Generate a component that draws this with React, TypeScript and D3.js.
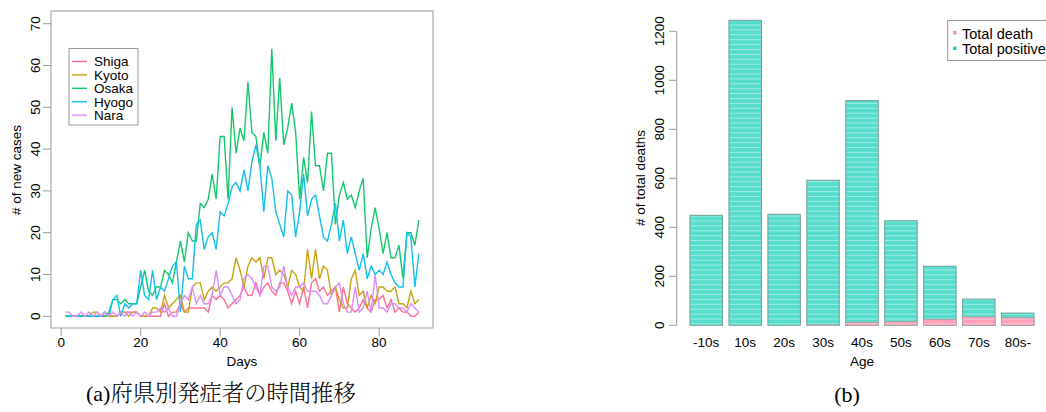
import React from "react";
import * as d3 from "d3";

const prefectures = ["Shiga", "Kyoto", "Osaka", "Hyogo", "Nara"];
const prefColors = ["#ff6f91", "#c9a30f", "#14c76a", "#12c0ea", "#dc8cfa"];

const shiga = [0,0,0,0,0,0,0,0,0,0,0,0, 0,0,1,1,1,1,1, 0,0,0,0,0,0,3,0,1,1, 3,1,2,2,2,2,2,1,5,4, 5,4,2,3,4,5,7,5,5,8, 5,7,8,6,5,8,8,6,3,6, 3,7,2,8,9,6,7,5,6,7, 1,7,3,2,1,2,4,2,1,4, 4,5,2,4,1,2,1,1,0,0,1];
const kyoto = [0,0,0,0,0,0,0,1,1,0,0,0, 0,0,1,1,0,1,1, 0,0,0,2,2,1,5,2,3,4, 5,1,1,7,8,8,4,6,7,6, 7,8,8,9,14,11,7,12,14,13, 14,9,14,14,10,11,10,7,11,10, 7,6,16,9,16,9,12,11,5,7, 4,2,2,9,11,5,6,2,5,3, 7,7,6,6,7,3,3,2,6,3,4];
const osaka = [0,0,0,0,0,0,0,0,0,0,0,1, 4,4,3,4,3,3,3, 7,11,6,5,7,7,11,10,8,13, 18,13,20,18,18,27,26,28,34,28, 43,43,28,50,39,45,42,56,44,43, 36,44,39,64,42,57,41,45,51,44, 28,38,32,49,36,36,30,39,39,22, 29,32,28,29,26,30,33,14,21,26, 21,15,20,14,14,17,9,20,20,17,23];
const hyogo = [0,0,0,0,0,0,0,0,0,0,1,0, 4,5,0,3,2,3,3, 11,5,4,11,4,7,6,9,12,13, 1,12,9,9,22,23,16,19,20,16, 25,24,27,31,32,30,35,30,37,41, 36,25,36,33,25,22,19,30,29,19, 25,34,24,28,29,24,19,18,22,27, 18,23,15,19,15,11,15,9,12,10, 11,10,13,10,8,7,7,20,19,7,15];
const nara = [1,1,0,0,1,0,1,0,1,0,1,0, 1,0,1,0,1,0,1, 0,1,0,1,1,2,1,2,0,0, 3,5,4,7,3,5,3,3,5,11, 5,7,7,5,3,4,9,10,9,7, 5,12,12,7,6,7,12,7,5,7, 7,8,6,6,6,5,3,3,5,7, 8,3,1,1,7,1,2,6,1,10, 2,2,1,3,3,2,2,1,3,2,1];
const seriesValues = [shiga, kyoto, osaka, hyogo, nara];

const xTicksLeft = [0, 20, 40, 60, 80];
const yTicksLeft = [0, 10, 20, 30, 40, 50, 60, 70];

const ageGroups = ["-10s", "10s", "20s", "30s", "40s", "50s", "60s", "70s", "80s-"];
const totalPositive = [449, 1245, 453, 592, 917, 427, 241, 107, 50];
const totalDeath = [0, 0, 0, 1, 12, 15, 24, 34, 31];
const yTicksRight = [0, 200, 400, 600, 800, 1000, 1200];

const FONT = "Liberation Sans, Arial, sans-serif";
const FS = 13.5;

export default function App() {
  const x = d3.scaleLinear().domain([-2.56, 93.56]).range([51, 433]);
  const y = d3.scaleLinear().domain([-2.8, 72.8]).range([328, 12]);
  const line = d3
    .line<number>()
    .x((_, i) => x(i + 1))
    .y((v) => y(v));

  const xb = d3.scaleBand().domain(ageGroups).range([690, 1034]).paddingInner(0.2 / 1.2).paddingOuter(0);
  const yb = d3.scaleLinear().domain([0, 1200]).range([325.3, 31.3]);

  const axisColor = "#9a9a9a";
  const textColor = "#000";

  return (
    <svg
      width={1046}
      height={412}
      style={{ position: "absolute", left: 0, top: 0, background: "#fff" }}
      fontFamily={FONT}
    >
      <defs>
        <pattern id="stripes" patternUnits="userSpaceOnUse" width={8} height={4.9}>
          <rect x={0} y={0} width={8} height={4.9} fill="#56ddcc" />
          <rect x={0} y={0} width={8} height={1} fill="#ffffff" opacity={0.45} />
        </pattern>
        <pattern id="stripesPink" patternUnits="userSpaceOnUse" width={8} height={4.9}>
          <rect x={0} y={0} width={8} height={4.9} fill="#ff9fb9" />
          <rect x={0} y={0} width={8} height={1} fill="#ffffff" opacity={0.45} />
        </pattern>
      </defs>

      {/* ===== Left chart ===== */}
      <rect x={51} y={11} width={382} height={317} fill="none" stroke={axisColor} strokeWidth={1} />
      {xTicksLeft.map((t) => (
        <g key={"xt" + t}>
          <line x1={x(t)} x2={x(t)} y1={328} y2={336} stroke={axisColor} />
          <text x={x(t)} y={346.5} fontSize={FS} textAnchor="middle" fill={textColor}>
            {t}
          </text>
        </g>
      ))}
      {yTicksLeft.map((t) => (
        <g key={"yt" + t}>
          <line x1={43} x2={51} y1={y(t)} y2={y(t)} stroke={axisColor} />
          <text
            transform={`translate(39.5,${y(t)}) rotate(-90)`}
            fontSize={FS}
            textAnchor="middle"
            fill={textColor}
          >
            {t}
          </text>
        </g>
      ))}
      <text x={242} y={365.5} fontSize={FS} textAnchor="middle" fill={textColor}>
        Days
      </text>
      <text transform="translate(21,170) rotate(-90)" fontSize={FS} textAnchor="middle" fill={textColor}>
        # of new cases
      </text>

      {seriesValues.map((vals, k) => (
        <path key={prefectures[k]} d={line(vals) || ""} fill="none" stroke={prefColors[k]} strokeWidth={1.4} />
      ))}

      {/* left legend */}
      <rect x={69} y={48.5} width={69} height={76.5} fill="#fff" stroke={axisColor} />
      {prefectures.map((p, k) => (
        <g key={"lg" + p}>
          <line x1={72} x2={87} y1={61.5 + k * 13.4} y2={61.5 + k * 13.4} stroke={prefColors[k]} strokeWidth={1.4} />
          <text x={94} y={66.3 + k * 13.4} fontSize={FS} fill={textColor}>
            {p}
          </text>
        </g>
      ))}

      {/* caption (a) */}
      <text x={86} y={401} fill={textColor}>
        <tspan fontFamily="Liberation Serif, Times New Roman, serif" fontSize={22}>
          (a)
        </tspan>
        <tspan fontFamily="Noto Serif CJK JP, Noto Sans CJK JP" fontSize={22.3} fontWeight={300}>
          府県別発症者の時間推移
        </tspan>
      </text>

      {/* ===== Right chart ===== */}
      {ageGroups.map((a, i) => (
        <g key={"bar" + a}>
          <rect
            x={xb(a)}
            y={yb(totalPositive[i])}
            width={xb.bandwidth()}
            height={yb(0) - yb(totalPositive[i])}
            fill="url(#stripes)"
            stroke="#6e9f99"
            strokeWidth={1}
          />
          {totalDeath[i] > 0 && (
            <rect
              x={xb(a)}
              y={yb(totalDeath[i])}
              width={xb.bandwidth()}
              height={yb(0) - yb(totalDeath[i])}
              fill="url(#stripesPink)"
              stroke="#b0a0a6"
              strokeWidth={1}
            />
          )}
          <text
            x={(xb(a) as number) + xb.bandwidth() / 2}
            y={347}
            fontSize={FS}
            textAnchor="middle"
            fill={textColor}
          >
            {a}
          </text>
        </g>
      ))}
      <line x1={676.7} x2={676.7} y1={yb(0)} y2={yb(1200)} stroke={axisColor} />
      {yTicksRight.map((t) => (
        <g key={"yr" + t}>
          <line x1={669} x2={676.7} y1={yb(t)} y2={yb(t)} stroke={axisColor} />
          <text
            transform={`translate(664,${yb(t)}) rotate(-90)`}
            fontSize={FS}
            textAnchor="middle"
            fill={textColor}
          >
            {t}
          </text>
        </g>
      ))}
      <text x={862} y={366} fontSize={FS} textAnchor="middle" fill={textColor}>
        Age
      </text>
      <text transform="translate(645,178) rotate(-90)" fontSize={FS} textAnchor="middle" fill={textColor}>
        # of total deaths
      </text>

      {/* right legend */}
      <rect x={947.7} y={20.5} width={110} height={40} fill="#fff" stroke={axisColor} />
      <rect x={953} y={31} width={3.5} height={3.5} fill="#ff8fac" />
      <rect x={953} y={46.5} width={3.5} height={3.5} fill="#22cdbf" />
      <text x={962} y={38.5} fontSize={14.5} fill={textColor}>
        Total death
      </text>
      <text x={962} y={54} fontSize={14.5} fill={textColor}>
        Total positive
      </text>

      {/* caption (b) */}
      <text x={847} y={402} fontSize={22} textAnchor="middle" fontFamily="Liberation Serif, Times New Roman, serif" fill={textColor}>
        (b)
      </text>
    </svg>
  );
}
